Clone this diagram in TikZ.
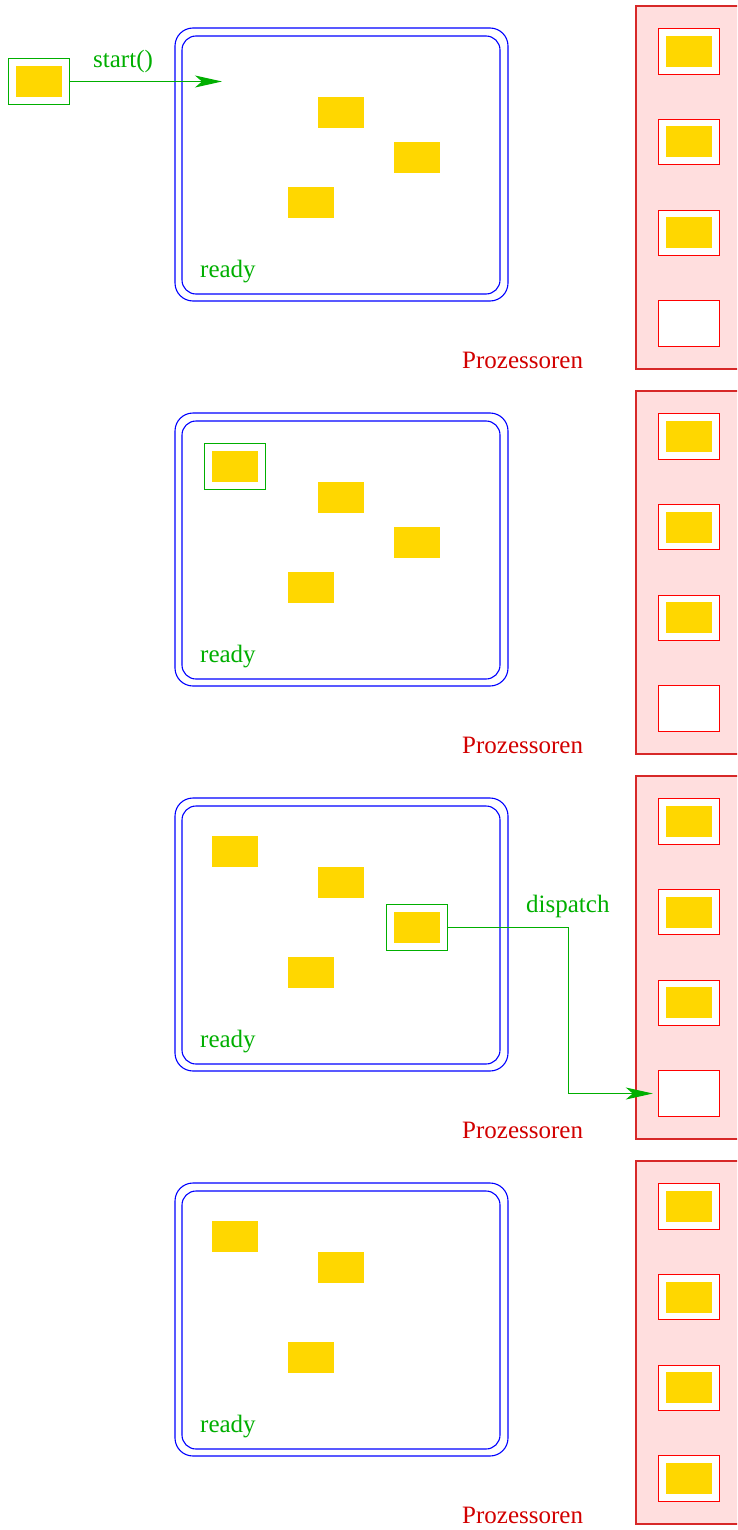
\documentclass[tikz,border=0pt]{standalone}
\usepackage{fontspec}
\setmainfont{Liberation Serif}
\usetikzlibrary{arrows.meta}
\definecolor{jobyellow}{RGB}{255,215,0}
\definecolor{fgreen}{RGB}{0,175,0}
\definecolor{fblue}{RGB}{0,0,255}
\definecolor{fred}{RGB}{255,0,0}
\definecolor{dred}{RGB}{215,40,40}
\definecolor{tred}{RGB}{210,0,0}
\definecolor{pinkfill}{RGB}{255,222,222}
\tikzset{
  job/.style={rectangle,fill=jobyellow,draw=none,inner sep=0pt,minimum width=46pt,minimum height=31pt},
  selbox/.style={rectangle,draw=fgreen,line width=1pt,fill=white,inner sep=0pt,minimum width=61pt,minimum height=46pt},
  procbox/.style={rectangle,draw=fred,line width=1pt,fill=white,inner sep=0pt,minimum width=61pt,minimum height=45.5pt},
  outerq/.style={draw=fblue,line width=1.1pt,rounded corners=18pt},
  innerq/.style={draw=fblue,line width=1.1pt,rounded corners=14pt},
  procpanel/.style={draw=dred,line width=1.2pt,fill=pinkfill},
  lbl/.style={inner sep=0pt,anchor=base west,font=\fontsize{25}{30}\selectfont},
  greenlbl/.style={lbl,text=fgreen},
  redlbl/.style={lbl,text=tred},
  conn/.style={draw=fgreen,line width=1pt,-{Stealth[length=27pt,width=12pt,inset=7pt]}}
}
\begin{document}
\begin{tikzpicture}[x=1pt,y=-1pt]
\clip (0,0) rectangle (737,1530);
\fill[white] (0,0) rectangle (737,1530);
% panels
\foreach \k in {0,1,2,3}{
  \pgfmathsetmacro{\dy}{385*\k}
  \draw[outerq] (175,28+\dy) rectangle (508,301+\dy);
  \draw[innerq] (182,36+\dy) rectangle (500,294+\dy);
  \draw[procpanel] (636,6+\dy) rectangle (760,369+\dy);
  \node[greenlbl] (ready\k) at (200,277+\dy) {ready};
  \node[redlbl] (proz\k) at (462,368+\dy) {Prozessoren};
  \node[procbox] (p\k1) at (688.8,51.3+\dy) {};
  \node[procbox] (p\k2) at (688.8,142+\dy) {};
  \node[procbox] (p\k3) at (688.8,232.8+\dy) {};
  \node[procbox] (p\k4) at (688.8,323.5+\dy) {};
  \node[job] (pj\k1) at (p\k1) {};
  \node[job] (pj\k2) at (p\k2) {};
  \node[job] (pj\k3) at (p\k3) {};
}
\node[job] (pj34) at (p34) {};
% panel 1
\node[selbox] (g0) at (38.5,81.5) {};
\node[job] (new0) at (g0) {};
\node[greenlbl] (startlbl) at (93,67.5) {start()};
\coordinate (starttip) at (222,81.5);
\draw[conn] (g0.east) -- (starttip);
\node[job] (B0) at (341,112.5) {};
\node[job] (C0) at (416.5,157.5) {};
\node[job] (D0) at (310.5,202.5) {};
% panel 2
\node[selbox] (g1) at (235,466.5) {};
\node[job] (A1) at (g1) {};
\node[job] (B1) at (341,497.5) {};
\node[job] (C1) at (416.5,542.5) {};
\node[job] (D1) at (310.5,587.5) {};
% panel 3
\node[job] (A2) at (235,851.5) {};
\node[job] (B2) at (341,882.5) {};
\node[selbox] (g2) at (416.5,927.5) {};
\node[job] (C2) at (g2) {};
\node[job] (D2) at (310.5,972.5) {};
\node[greenlbl] (displbl) at (526,912) {dispatch};
\coordinate (bend) at (568,1093.5);
\draw[conn] (g2.east) -| (bend) -- ([xshift=-5pt]p24.west);
% panel 4
\node[job] (A3) at (235,1236.5) {};
\node[job] (B3) at (341,1267.5) {};
\node[job] (D3) at (310.5,1357.5) {};
\end{tikzpicture}
\end{document}
